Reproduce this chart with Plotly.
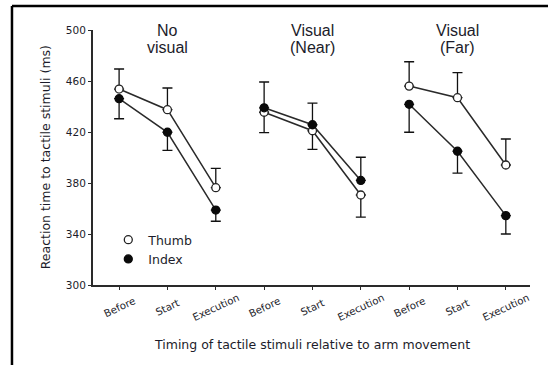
import plotly.graph_objects as go

# ---- data ----
categories = ["Before", "Start", "Execution",
              "Before", "Start", "Execution",
              "Before", "Start", "Execution"]
conditions = ["No|visual", "Visual|(Near)", "Visual|(Far)"]

thumb = [453.7, 437.5, 376.3, 435.5, 421.0, 370.6, 456.0, 446.9, 394.1]
index = [446.1, 419.8, 358.8, 439.0, 425.7, 382.0, 441.7, 404.9, 354.4]

thumb_err_up = [15.7, 17.0, 15.2, 0, 0, 0, 19.1, 19.6, 20.4]
thumb_err_down = [0, 0, 0, 16.0, 14.6, 17.3, 0, 0, 0]
index_err_up = [0, 0, 0, 20.2, 17.0, 18.2, 0, 0, 0]
index_err_down = [15.7, 14.2, 8.8, 0, 0, 0, 21.9, 17.1, 14.4]

y_ticks = [300, 340, 380, 420, 460, 500]

# ---- helpers ----
pos = list(range(len(categories)))


def gapped(vals):
    xs, ys = [], []
    for i, v in enumerate(vals):
        if i > 0 and i % 3 == 0:
            xs.append(None)
            ys.append(None)
        xs.append(pos[i])
        ys.append(v)
    return xs, ys


LINE_C = "#2a2a2a"
TEXT_C = "#1c1c2a"
FONT = "Liberation Sans, Arial, sans-serif"
WIDE = "DejaVu Sans, Liberation Sans, sans-serif"

fig = go.Figure()

# error bars (one-sided)
for vals, errs, up in [(thumb, thumb_err_up, True), (thumb, thumb_err_down, False),
                       (index, index_err_up, True), (index, index_err_down, False)]:
    ys = [v if e > 0 else None for v, e in zip(vals, errs)]
    ez = [e if e > 0 else 0 for e in errs]
    ey = dict(type="data", symmetric=False,
              array=ez if up else [0] * len(ez),
              arrayminus=[0] * len(ez) if up else ez,
              color="#111111", thickness=1.3, width=5)
    fig.add_trace(go.Scatter(x=pos, y=ys, mode="markers",
                             marker=dict(size=1, opacity=0),
                             error_y=ey, showlegend=False, hoverinfo="skip"))

# connecting lines
for vals in (thumb, index):
    xs, ys = gapped(vals)
    fig.add_trace(go.Scatter(x=xs, y=ys, mode="lines",
                             line=dict(color=LINE_C, width=1.5),
                             showlegend=False, hoverinfo="skip"))

# markers
fig.add_trace(go.Scatter(x=pos, y=thumb, mode="markers", name="Thumb",
                         marker=dict(size=8, color="white",
                                     line=dict(color="#222222", width=1.3))))
fig.add_trace(go.Scatter(x=pos, y=index, mode="markers", name="Index",
                         marker=dict(size=8, color="#0a0a0a",
                                     line=dict(color="#0a0a0a", width=1.3))))

annotations = []
# condition titles
for gi, cond in enumerate(conditions):
    l1, l2 = cond.split("|")
    for line, yy in ((l1, 1.0), (l2, 0.93)):
        annotations.append(dict(x=pos[gi * 3 + 1], y=yy, xref="x", yref="paper",
                                text=line, showarrow=False, xanchor="center",
                                yanchor="middle",
                                font=dict(size=16, color=TEXT_C, family=FONT)))
# x tick labels (rotated, centred on ticks)
for p, c in zip(pos, categories):
    annotations.append(dict(x=p, y=-0.088, xref="x", yref="paper", text=c,
                            showarrow=False, textangle=-25, xanchor="center",
                            yanchor="middle",
                            font=dict(size=10.2, color=TEXT_C, family=WIDE)))
# axis titles
annotations.append(dict(x=0.5, y=-0.232, xref="paper", yref="paper",
                        text="Timing of tactile stimuli relative to arm movement",
                        showarrow=False, xanchor="center", yanchor="middle",
                        font=dict(size=12.5, color=TEXT_C, family=WIDE)))
annotations.append(dict(x=-0.108, y=0.5, xref="paper", yref="paper",
                        text="Reaction time to tactile stimuli (ms)",
                        showarrow=False, textangle=-90, xanchor="center",
                        yanchor="middle",
                        font=dict(size=12.5, color=TEXT_C, family=WIDE)))

# frame lines (left and top)
shapes = [
    dict(type="line", xref="paper", yref="paper", x0=-0.1854, x1=-0.1854,
         y0=1.094, y1=-0.40, line=dict(color="#000000", width=2.5)),
    dict(type="line", xref="paper", yref="paper", x0=-0.1854, x1=1.10,
         y0=1.094, y1=1.094, line=dict(color="#000000", width=2.5)),
]

fig.update_layout(
    width=548, height=365,
    margin=dict(l=93, r=18, t=30, b=80),
    paper_bgcolor="white", plot_bgcolor="white",
    font=dict(family=FONT, color=TEXT_C),
    annotations=annotations, shapes=shapes,
    legend=dict(x=0.035, y=0.235, xanchor="left", yanchor="top",
                bgcolor="rgba(0,0,0,0)",
                font=dict(size=12.5, color=TEXT_C, family=WIDE),
                itemwidth=30, tracegroupgap=0),
    xaxis=dict(range=[-0.54, 8.5], tickvals=pos, showticklabels=False,
               ticks="outside", ticklen=3, tickwidth=1.3, tickcolor=LINE_C,
               showline=True, linecolor=LINE_C, linewidth=2,
               showgrid=False, zeroline=False, fixedrange=True),
    yaxis=dict(range=[300, 500], tickvals=y_ticks, ticks="outside", ticklen=3,
               tickwidth=1.3, tickcolor=LINE_C, showline=True,
               linecolor=LINE_C, linewidth=2, showgrid=False, zeroline=False,
               tickfont=dict(size=10.5, color=TEXT_C, family=WIDE)),
)

fig.write_html("out.html")
